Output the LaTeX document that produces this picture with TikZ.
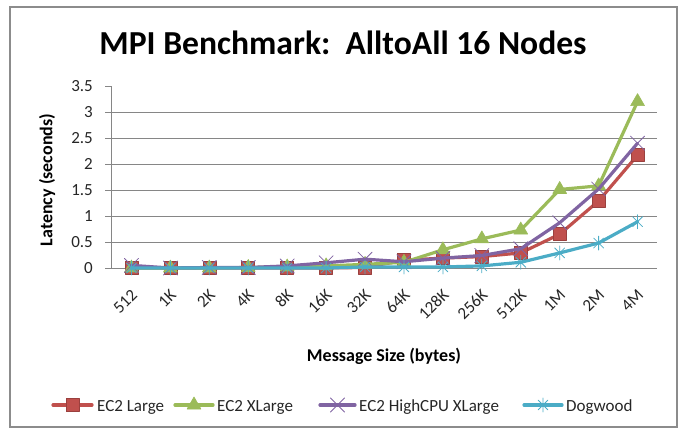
\documentclass[tikz,border=0pt]{standalone}
\usepackage{fontspec}
\setmainfont{Carlito}
\usetikzlibrary{plotmarks}
\definecolor{cred}{HTML}{C0504D}
\definecolor{cgreen}{HTML}{9BBB59}
\definecolor{cpurple}{HTML}{8064A2}
\definecolor{ccyan}{HTML}{4BACC6}
\definecolor{gridgray}{HTML}{868686}
\definecolor{framegray}{HTML}{8C8C8C}
\pgfdeclareplotmark{xstar}{%
 \pgfpathmoveto{\pgfqpoint{-.7071\pgfplotmarksize}{-.7071\pgfplotmarksize}}%
 \pgfpathlineto{\pgfqpoint{.7071\pgfplotmarksize}{.7071\pgfplotmarksize}}%
 \pgfpathmoveto{\pgfqpoint{-.7071\pgfplotmarksize}{.7071\pgfplotmarksize}}%
 \pgfpathlineto{\pgfqpoint{.7071\pgfplotmarksize}{-.7071\pgfplotmarksize}}%
 \pgfpathmoveto{\pgfqpoint{0pt}{-\pgfplotmarksize}}%
 \pgfpathlineto{\pgfqpoint{0pt}{\pgfplotmarksize}}%
 \pgfusepathqstroke}
\begin{document}
\begin{tikzpicture}[x=1pt,y=1pt,
  framebox/.style={draw=framegray,line width=1.5pt},
  gridline/.style={draw=gridgray,line width=0.9pt},
  ticklab/.style={font=\fontsize{17}{20}\selectfont,inner sep=0pt,text=black!85},
  xticklab/.style={ticklab,rotate=45,anchor=east},
  axlab/.style={font=\fontsize{18}{21}\selectfont\bfseries,inner sep=0pt},
  legtext/.style={font=\fontsize{17}{20}\selectfont,inner sep=0pt,anchor=base west,text=black!85},
  series/.style={line width=3.2pt,line join=round,line cap=round},
  sred/.style={series,draw=cred,mark=square*,mark size=6.5pt,mark options={fill=cred,draw=cred!80!black,line width=0.6pt}},
  sgreen/.style={series,draw=cgreen,mark=triangle*,mark size=8pt,mark options={fill=cgreen,draw=cgreen,line width=0.6pt}},
  spurple/.style={series,draw=cpurple,mark=x,mark size=10pt,mark options={draw=cpurple,line width=0.8pt}},
  scyan/.style={series,draw=ccyan,mark=xstar,mark size=7pt,mark options={draw=ccyan,line width=0.8pt}}]
\useasboundingbox (0,0) rectangle (684,433);
\draw[framebox] (10,6) rectangle (677,426);
\node[font=\fontsize{33.6}{40}\selectfont\bfseries,inner sep=0pt,anchor=base] (title) at (343,378) {MPI Benchmark:\ \ AlltoAll 16 Nodes};
% grid and axes
\foreach \v [count=\k] in {0.5,1,1.5,2,2.5,3}
  \draw[gridline] (111,{165+52*\v}) -- (657,{165+52*\v});
\draw[gridline] (111,165) -- (657,165);
\draw[gridline] (111,165) -- (111,347);
\foreach \v in {0,0.5,1,1.5,2,2.5,3,3.5}
  \draw[gridline] (105,{165+52*\v}) -- (111,{165+52*\v});
\foreach \v/\t [count=\k] in {0/0,0.5/0.5,1/1,1.5/1.5,2/2,2.5/2.5,3/3,3.5/3.5}
  \node[ticklab,anchor=east] (yt\k) at (93,{165+52*\v}) {\t};
\foreach \t [count=\k from 0] in {512,1K,2K,4K,8K,16K,32K,64K,128K,256K,512K,1M,2M,4M}
  \node[xticklab] (xt\k) at ({131.46+38.93*\k+3},141) {\t};
\node[axlab,rotate=90] (ylab) at (47,253) {Latency (seconds)};
\node[axlab,anchor=base] (xlab) at (384,71) {Message Size (bytes)};
% series
\begin{scope}[shift={(131.46pt,165pt)},x=38.93pt,y=52pt]
\draw[sred] plot coordinates {(0,0) (1,0) (2,0) (3,0) (4,0) (5,0) (6,0.01) (7,0.15) (8,0.19) (9,0.22) (10,0.29) (11,0.65) (12,1.29) (13,2.17)};
\draw[sgreen] plot coordinates {(0,0) (1,0) (2,0) (3,0.01) (4,0.02) (5,0.04) (6,0.07) (7,0.11) (8,0.35) (9,0.56) (10,0.73) (11,1.51) (12,1.58) (13,3.2)};
\draw[spurple] plot coordinates {(0,0.05) (1,0) (2,0.01) (3,0.01) (4,0.04) (5,0.1) (6,0.17) (7,0.12) (8,0.19) (9,0.24) (10,0.37) (11,0.87) (12,1.52) (13,2.4)};
\draw[scyan] plot coordinates {(0,0) (1,0) (2,0) (3,0) (4,0) (5,0) (6,0.02) (7,0.02) (8,0.02) (9,0.04) (10,0.11) (11,0.29) (12,0.48) (13,0.89)};
\end{scope}
% legend
\draw[series,draw=cred] (53,28) -- (92,28);
\draw[sred] plot coordinates {(72.5,28)};
\node[legtext] (l1) at (97,22) {EC2 Large};
\draw[series,draw=cgreen] (175,28) -- (213,28);
\draw[sgreen] plot coordinates {(194,28)};
\node[legtext] (l2) at (217,22) {EC2 XLarge};
\draw[series,draw=cpurple] (320,28) -- (355,28);
\draw[spurple] plot coordinates {(337.5,28)};
\node[legtext] (l3) at (359,22) {EC2 HighCPU XLarge};
\draw[series,draw=ccyan] (524,28) -- (562,28);
\draw[scyan] plot coordinates {(543,28)};
\node[legtext] (l4) at (566,22) {Dogwood};
\end{tikzpicture}
\end{document}
